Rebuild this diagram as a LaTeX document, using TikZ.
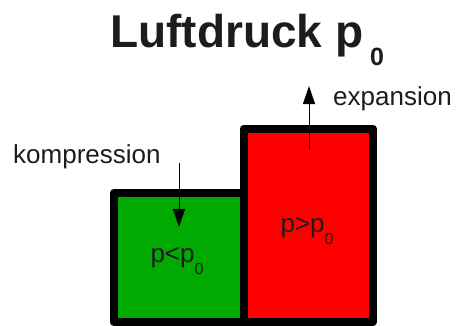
\documentclass[tikz,border=0pt]{standalone}
\usepackage{fontspec}
\setmainfont{Liberation Sans}
\usetikzlibrary{arrows.meta}
\definecolor{lowgreen}{RGB}{0,170,0}
\definecolor{highred}{RGB}{255,0,0}
\definecolor{inkgray}{RGB}{28,28,28}
\tikzset{lbl/.style = {inner sep = 0, text = inkgray,
                       font = \fontsize{26}{30}\selectfont}}
\tikzset{box/.style = {draw = black, line width = 8pt, line join = round,
                       inner sep = 0, outer sep = 0, anchor = south west}}
\tikzset{push/.style = {line width = 1pt,
                        -{Triangle[length=18pt,width=12pt]}}}
\newcommand{\lowidx}[2]{\raisebox{-#1}{\fontsize{#2}{#2}\selectfont 0}}

\begin{document}
\begin{tikzpicture}[x=1pt,y=-1pt]
      \useasboundingbox (0,0) rectangle (457,325);

      % the two containers
      \node[box, fill=lowgreen, minimum width=130, minimum height=129]
        (low) at (113.5,322) {};
      \node[box, fill=highred, minimum width=129.5, minimum height=193.5]
        (high) at (243.5,322) {};

      \node[lbl, anchor=base] (plow) at (177,262) {p<p\lowidx{12pt}{16}};
      \node[lbl, anchor=base] (phigh) at (307,232) {p>p\lowidx{12pt}{16}};

      % title
      \node[inner sep=0, anchor=base west, text=inkgray,
            font=\bfseries\fontsize{46}{50}\selectfont]
        (title) at (110,47) {Luftdruck p\hspace{7pt}\lowidx{18pt}{25}};

      % arrows and their labels
      \node[lbl, anchor=base west] (komp) at (13,163) {kompression};
      \node[lbl, anchor=base west] (expa) at (333,105) {expansion};

      \coordinate (kstart) at (179,163);
      \coordinate (kend) at (179,227);
      \coordinate (estart) at (309,150);
      \coordinate (eend) at (309,86);
      \draw[push] (kstart) -- (kend);
      \draw[push] (estart) -- (eend);
    \end{tikzpicture}
\end{document}
